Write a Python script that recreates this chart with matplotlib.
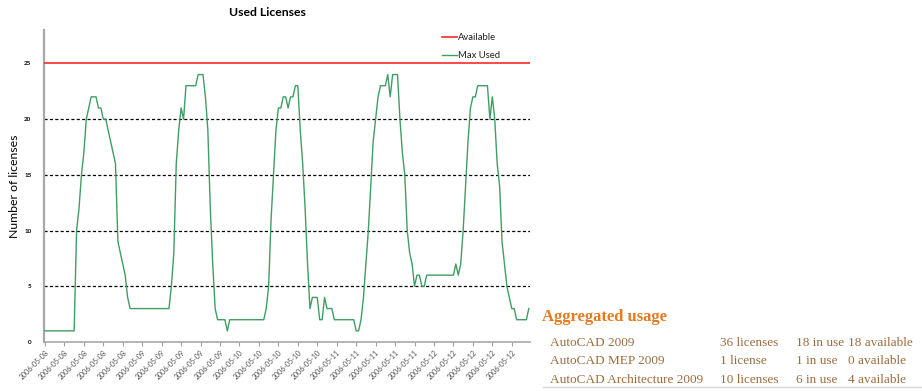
import numpy as np
import matplotlib
matplotlib.use("Agg")
import matplotlib.pyplot as plt
from matplotlib.lines import Line2D

# ---------------- data ----------------
used_0508 = [1, 1, 1, 1, 1, 1, 1, 1, 1, 1, 1, 1, 1,
             10, 12, 15, 17, 20, 21, 22, 22, 22, 21, 21, 20, 20, 19, 18, 17, 16,
             9, 8, 7, 6, 4, 3, 3, 3, 3, 3]
used_0509 = [3, 3, 3, 3, 3, 3, 3, 3, 3, 3, 3, 3,
             5, 8, 16, 19, 21, 20, 23, 23, 23, 23, 23, 24, 24, 24, 22, 19, 12, 7,
             3, 2, 2, 2, 2, 1, 2, 2, 2, 2]
used_0510 = [2, 2, 2, 2, 2, 2, 2, 2, 2, 2, 2,
             3, 5, 11, 15, 19, 21, 21, 22, 22, 21, 22, 22, 23, 23, 19, 16, 12, 7,
             3, 4, 4, 4, 2, 2, 4, 3, 3, 3, 2]
used_0511 = [2, 2, 2, 2, 2, 2, 2, 2,
             1, 1, 2, 4, 7, 10, 14, 18, 20, 22, 23, 23, 23, 24, 22, 24, 24, 24,
             20, 17, 15, 10, 8, 7, 5, 6, 6, 5, 5, 6, 6, 6]
used_0512 = [6, 6, 6, 6, 6, 6, 6, 6, 6,
             7, 6, 7, 10, 14, 18, 21, 22, 22, 23, 23, 23, 23, 23, 20, 22, 20,
             16, 14, 9, 7, 5, 4, 3, 3, 2, 2, 2, 2, 2, 3]
available = 25

tick_labels = (["2006-05-08"] * 5 + ["2006-05-09"] * 5 + ["2006-05-10"] * 5
               + ["2006-05-11"] * 5 + ["2006-05-12"] * 5)
series_names = ["Available", "Max Used"]

products = ["AutoCAD 2009", "AutoCAD MEP 2009", "AutoCAD Architecture 2009"]
lic_text = ["36 licenses", "1 license", "10 licenses"]
inuse_text = ["18 in use", "1 in use", "6 in use"]
avail_text = ["18 available", "0 available", "4 available"]

# ---------------- figure ----------------
used = np.array(used_0508 + used_0509 + used_0510 + used_0511 + used_0512)
x = np.arange(len(used))

W, H = 922, 391
fig = plt.figure(figsize=(W / 100, H / 100), dpi=100)
fig.patch.set_facecolor("white")

ax = fig.add_axes([44 / W, 1 - 342 / H, 486 / W, 312 / H])
font = "Lato"
red = "#ff2a2a"
green = "#3f9e63"

ax.axhline(available, color=red, lw=1.2, zorder=3)
ax.plot(x, used, color=green, lw=1.0, zorder=4)

for v in (5, 10, 15, 20):
    ax.axhline(v, color="black", lw=0.9, ls=(0, (2.5, 1.8)), zorder=2)

ax.set_ylim(0, 28)
ax.set_xlim(-0.4, len(used) - 0.5)
ax.set_yticks([0, 5, 10, 15, 20, 25])
ax.set_yticklabels(["0", "5", "10", "15", "20", "25"], fontsize=4.5,
                   family=font, fontweight="bold")
ax.tick_params(axis="y", length=0, pad=9)

ticks = np.arange(0, len(used), 8)[:len(tick_labels)]
ax.set_xticks(ticks)
ax.set_xticklabels(tick_labels, rotation=45, ha="right", rotation_mode="anchor",
                   fontsize=5, family=font, color="#505050")
ax.tick_params(axis="x", length=3, width=0.8, color="#a0a0a0", pad=2)

for s in ("top", "right"):
    ax.spines[s].set_visible(False)
ax.spines["left"].set_color("#a8a8a8")
ax.spines["left"].set_linewidth(1.6)
ax.spines["bottom"].set_color("#a8a8a8")
ax.spines["bottom"].set_linewidth(1.2)

ax.set_ylabel("Number of licenses", fontsize=8.8, family=font)
ax.yaxis.set_label_coords((20 - 44) / 486, 0.5)

fig.text(267 / W, 1 - 12 / H, "Used Licenses", ha="center", va="center",
         fontsize=8.8, fontweight="bold", family=font)

# legend (drawn manually to match placement)
for j, (name, col, lw, yy) in enumerate(zip(series_names, [red, green],
                                             [1.2, 1.0], [37, 55])):
    fig.add_artist(Line2D([442 / W, 457 / W], [1 - yy / H, 1 - yy / H],
                          color=col, lw=lw, transform=fig.transFigure))
    fig.text(458 / W, 1 - yy / H, name, ha="left", va="center",
             fontsize=6.8, family=font, color="#202020")

# ---------------- aggregated usage text ----------------
serif = "Liberation Serif"
fig.text(542 / W, 1 - 317 / H, "Aggregated usage", ha="left", va="center",
         fontsize=12, fontweight="bold", family=serif, color="#e57a20")
row_y = [343, 361, 380]
cols = [550, 720, 796, 848]
txtc = "#9b6d3f"
for i in range(len(products)):
    for cx, t in zip(cols, [products[i], lic_text[i], inuse_text[i], avail_text[i]]):
        fig.text(cx / W, 1 - row_y[i] / H, t, ha="left", va="center",
                 fontsize=9.5, family=serif, color=txtc)
fig.add_artist(Line2D([543 / W, 1.0], [1 - 387 / H, 1 - 387 / H],
                      color="#d8d8d8", lw=1.0, transform=fig.transFigure))

fig.savefig("out.png", dpi=100, facecolor="white")
